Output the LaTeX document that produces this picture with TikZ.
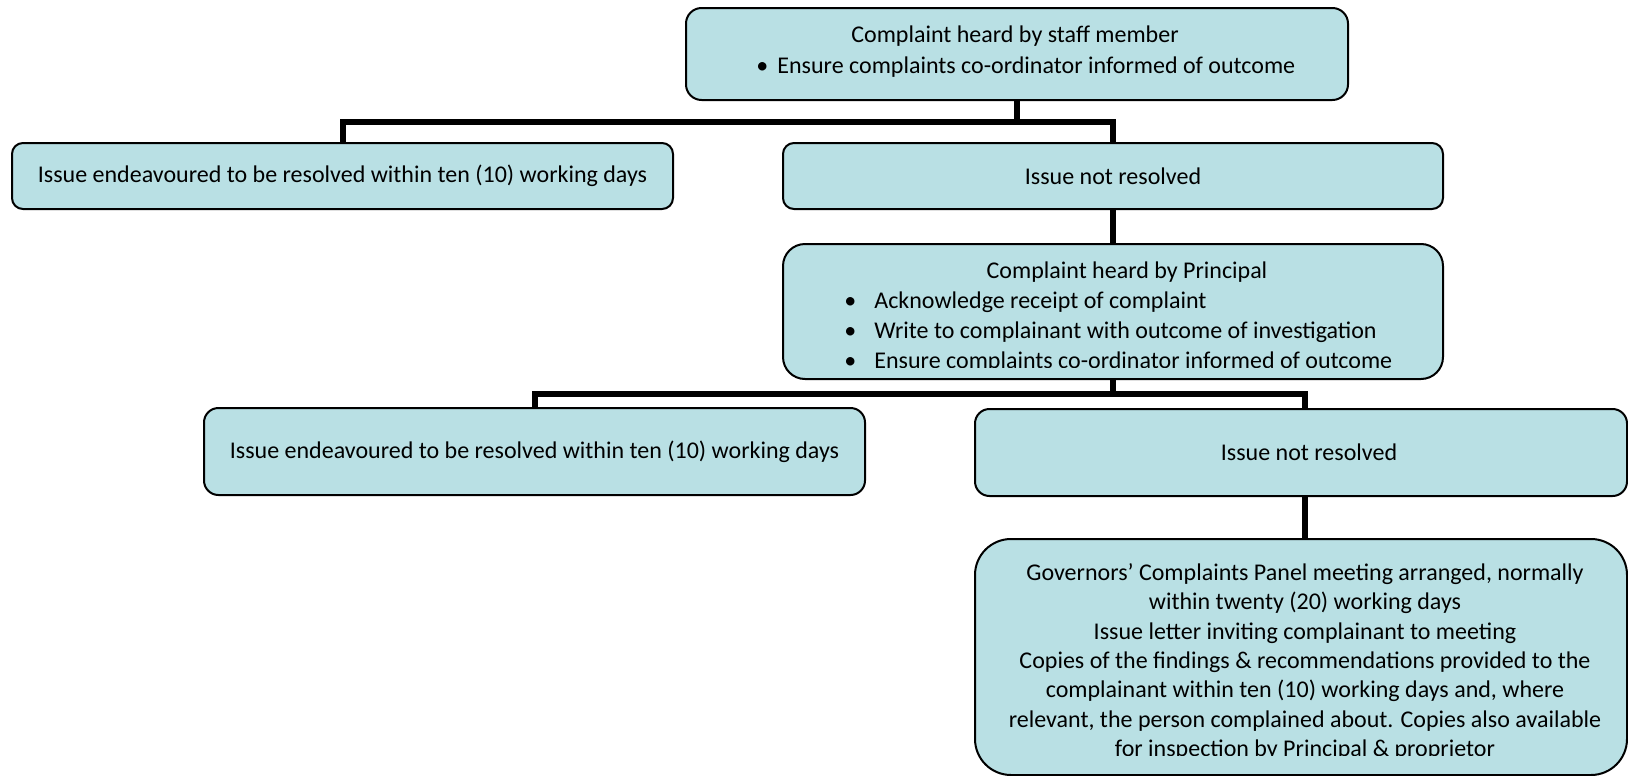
\documentclass[tikz,border=0pt]{standalone}
\usepackage{fontspec}
\setmainfont{Carlito}
\definecolor{boxfill}{RGB}{185,224,228}
\begin{document}
\begin{tikzpicture}[x=0.5pt,y=-0.5pt,
  box/.style={draw=black, line width=1pt, fill=boxfill, inner sep=0pt, align=center,
              font=\fontsize{12}{14.7}\selectfont},
  txt/.style={inner sep=0pt, font=\fontsize{12}{14.7}\selectfont},
  conn/.style={line width=3pt, draw=black}]
\useasboundingbox (0,0) rectangle (1628,776);

% boxes
\node[box, minimum width=331pt, minimum height=46pt, rounded corners=7.8pt] (b1) at (1017,54) {};
\node[box, minimum width=330.5pt, minimum height=33pt, rounded corners=5.5pt] (b2) at (342.5,176)
  {Issue endeavoured to be resolved within ten (10) working days};
\node[box, minimum width=330pt, minimum height=33pt, rounded corners=5.5pt] (b3) at (1113,176)
  {Issue not resolved};
\node[box, minimum width=330pt, minimum height=67.5pt, rounded corners=11pt] (b4) at (1113,311.5) {};
\node[box, minimum width=330.5pt, minimum height=43.5pt, rounded corners=7.25pt] (b5) at (534.5,451.5)
  {Issue endeavoured to be resolved within ten (10) working days};
\node[box, minimum width=326pt, minimum height=43.5pt, rounded corners=7.25pt] (b6) at (1301,452.5)
  {\hspace{8pt}Issue not resolved};
\node[box, minimum width=326pt, minimum height=118pt, rounded corners=18pt] (b7) at (1301,657) {};

% texts of box 1
\node[txt] (t1a) at (1015,36) {Complaint heard by staff member};
\node[txt, anchor=west] (t1b) at (777,67)
  {\llap{\textbullet\hspace{4.5pt}}Ensure complaints co-ordinator informed of outcome};

% texts of box 4 (last line cut)
\begin{scope}
\clip (785,246) rectangle (1441,367);
\node[txt] (t4a) at (1127,272) {Complaint heard by Principal};
\node[txt, anchor=west] (t4b) at (874,302.5) {\llap{\textbullet\hspace{9pt}}Acknowledge receipt of complaint};
\node[txt, anchor=west] (t4c) at (874,332.5) {\llap{\textbullet\hspace{9pt}}Write to complainant with outcome of investigation};
\node[txt, anchor=west] (t4d) at (874,362.5) {\llap{\textbullet\hspace{9pt}}Ensure complaints co-ordinator informed of outcome};
\end{scope}

% texts of box 7 (last line cut)
\begin{scope}
\clip (977,541) rectangle (1625,755);
\node[txt, align=center] (t7) at (1305,662)
  {Governors’ Complaints Panel meeting arranged, normally\\
   within twenty (20) working days\\
   Issue letter inviting complainant to meeting\\
   Copies of the findings \& recommendations provided to the\\
   complainant within ten (10) working days and, where\\
   relevant, the person complained about. Copies also available\\
   for inspection by Principal \& proprietor};
\end{scope}

% connectors
\coordinate (j1) at (1017,122);
\coordinate (j2) at (1113,393.5);
\coordinate (k6) at (1305,452);
\draw[conn] (b1.south) -- (j1);
\draw[conn] (b2.north) |- (j1) -| (b3.north);
\draw[conn] (b3.south) -- (b4.north);
\draw[conn] (b4.south) -- (j2);
\draw[conn] (b5.north) |- (j2) -| (b6.north -| k6);
\draw[conn] (b6.south -| k6) -- (b7.north -| k6);
\end{tikzpicture}
\end{document}
